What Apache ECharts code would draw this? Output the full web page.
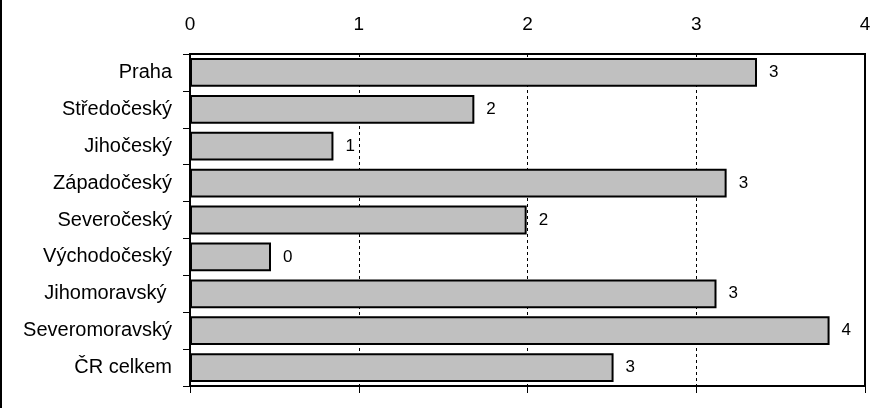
<!DOCTYPE html>
<html><head><meta charset="utf-8">
<script src="https://cdn.jsdelivr.net/npm/echarts@6/dist/echarts.min.js"></script>
<style>html,body{margin:0;padding:0;background:#fff}#c{width:896px;height:408px}</style>
</head><body><div id="c"></div>
<script>
const categories = ['Praha','Středočeský','Jihočeský','Západočeský','Severočeský','Východočeský','Jihomoravský ','Severomoravský','ČR celkem'];
const values = [3.36, 1.685, 0.85, 3.18, 1.995, 0.48, 3.12, 3.79, 2.51];
const axisTicks = [0, 1, 2, 3, 4];

const chart = echarts.init(document.getElementById('c'), null, {renderer:'canvas'});
const font = 'Liberation Sans, Arial, sans-serif';
chart.setOption({
  animation: false,
  backgroundColor: '#fff',
  grid: {left: 190, right: 31, top: 54, bottom: 22, show: true, borderColor: '#000', borderWidth: 2, backgroundColor: 'transparent'},
  xAxis: [{
    type: 'value', position: 'top', min: axisTicks[0], max: axisTicks[axisTicks.length-1], interval: 1,
    axisLine: {show: false}, axisTick: {show: false},
    axisLabel: {color: '#000', fontFamily: font, fontSize: 19, margin: 20},
    splitLine: {show: true, lineStyle: {color: '#000', type: [3, 3], width: 1}}
  }, {
    type: 'value', position: 'bottom', min: axisTicks[0], max: axisTicks[axisTicks.length-1], interval: 1,
    axisLine: {show: false}, axisTick: {show: true, length: 7, lineStyle: {color: '#000', width: 1}},
    axisLabel: {show: false}, splitLine: {show: false}
  }],
  yAxis: {
    type: 'category', data: categories, inverse: true,
    axisLine: {show: true, lineStyle: {color: '#000', width: 2}},
    axisTick: {show: true, length: 7, alignWithLabel: false, lineStyle: {color: '#000', width: 1}},
    axisLabel: {color: '#000', fontFamily: font, fontSize: 20, margin: 18}
  },
  series: [{
    type: 'bar', data: values, xAxisIndex: 0, barCategoryGap: '22%',
    itemStyle: {color: '#c0c0c0', borderColor: '#000', borderWidth: 2},
    label: {show: true, position: 'right', distance: 12, color: '#000', fontFamily: font, fontSize: 17,
      formatter: p => String(Math.round(p.value))}
  }],
  graphic: [{type: 'rect', shape: {x: 0, y: 0, width: 2, height: 408}, style: {fill: '#000'}}]
});
</script></body></html>
